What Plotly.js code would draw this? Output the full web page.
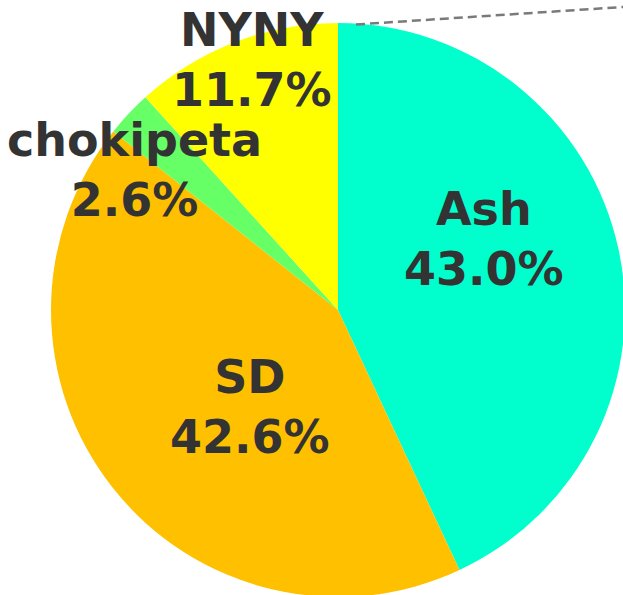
<!DOCTYPE html>
<html>
<head>
<meta charset="utf-8">
<script src="https://cdn.plot.ly/plotly-3.0.1.min.js"></script>
<style>
html, body { margin: 0; padding: 0; overflow: hidden; background: #fff; }
#chart { width: 650px; height: 620px; }
</style>
</head>
<body>
<div id="chart"></div>
<script>
const labels = ["Ash", "SD", "chokipeta", "NYNY"];
const values = [43.0, 42.6, 2.6, 11.7];
const colors = ["#00FFCC", "#FFC000", "#66FF66", "#FFFF00"];
const pctText = ["43.0%", "42.6%", "2.6%", "11.7%"];

const W = 650, H = 620;
const px = x => x / W;
const py = y => 1 - y / H;

// label centres (pixels)
const labelPos = [[484, 239], [250, 407], [134, 170], [252, 60]];

const annotations = labels.map((l, i) => ({
  text: l + "<br>" + pctText[i],
  x: px(labelPos[i][0]), y: py(labelPos[i][1]),
  xref: "paper", yref: "paper",
  xanchor: "center", yanchor: "middle",
  showarrow: false,
  font: { family: "DejaVu Sans, Verdana, sans-serif", size: 46, color: "#333333", weight: "bold" }
}));

const data = [{
  type: "pie",
  labels: labels,
  values: values,
  sort: false,
  direction: "clockwise",
  rotation: 0,
  textinfo: "none",
  hoverinfo: "label+percent",
  marker: { colors: colors, line: { width: 0 } },
  domain: { x: [px(51), px(625)], y: [py(597), py(23)] }
}];

const layout = {
  width: W, height: H,
  margin: { l: 0, r: 0, t: 0, b: 0 },
  showlegend: false,
  paper_bgcolor: "#ffffff",
  annotations: annotations,
  shapes: [{
    type: "line", xref: "paper", yref: "paper",
    x0: px(356), y0: py(24.5), x1: px(623), y1: py(7),
    line: { color: "#7a7a7a", width: 2.5, dash: "9px,5px" }
  }]
};

Plotly.newPlot("chart", data, layout, { displayModeBar: false, staticPlot: true });
</script>
</body>
</html>
